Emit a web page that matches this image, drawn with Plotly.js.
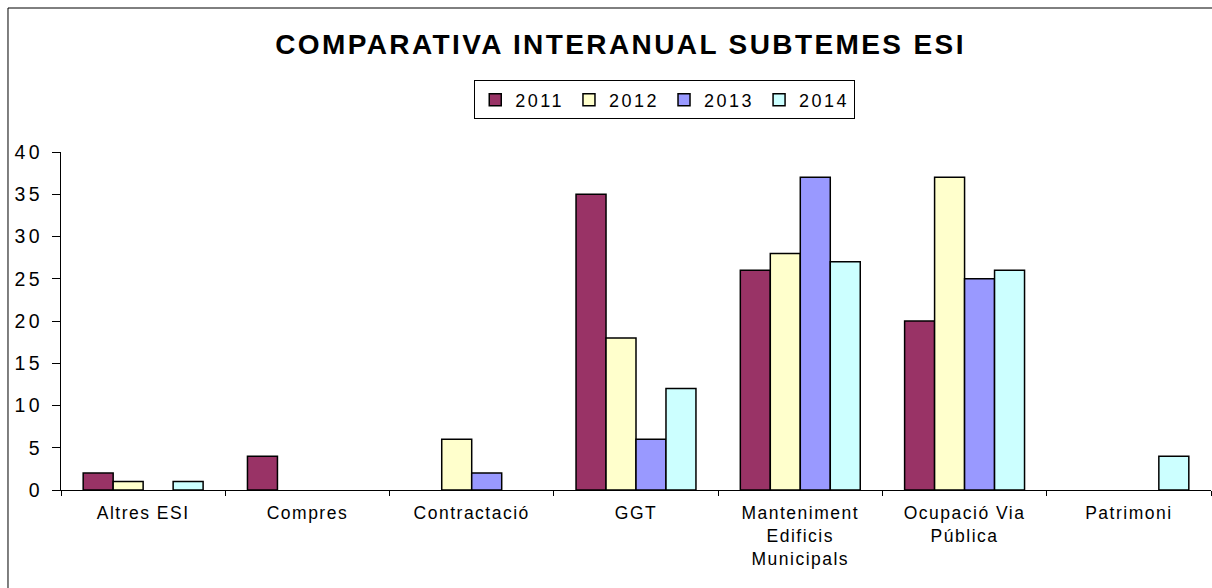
<!DOCTYPE html>
<html>
<head>
<meta charset="utf-8">
<script src="https://cdn.plot.ly/plotly-3.0.1.min.js"></script>
<style>
html,body{margin:0;padding:0;background:#fff}
#chart{width:1212px;height:588px}
svg text{letter-spacing:2.5px}
#chart .gtitle{letter-spacing:2.4px}
#chart .xtick text{letter-spacing:1.5px}
#chart .ytick text{letter-spacing:3.5px}
</style>
</head>
<body>
<div id="chart"></div>
<script>
const categories = ["Altres ESI", "Compres", "Contractació", "GGT", "Manteniment<br>Edificis<br>Municipals", "Ocupació Via<br>Pública", "Patrimoni"];
const years = ["2011", "2012", "2013", "2014"];
const v2011 = [2, 4, 0, 35, 26, 20, 0];
const v2012 = [1, 0, 6, 18, 28, 37, 0];
const v2013 = [0, 0, 2, 6, 37, 25, 0];
const v2014 = [1, 0, 0, 12, 27, 26, 4];
const colors = ["#993366", "#FFFFCC", "#9999FF", "#CCFFFF"];
const series = [v2011, v2012, v2013, v2014];

const traces = series.map((vals, i) => ({
  type: "bar",
  name: years[i],
  x: categories,
  y: vals.map(v => (v === 0 ? null : v)),
  marker: {color: colors[i], line: {color: "#000", width: 1.5}}
}));

const layout = {
  width: 1212, height: 588,
  paper_bgcolor: "#fff", plot_bgcolor: "#fff",
  margin: {l: 61, r: 1, t: 152, b: 98},
  font: {family: "Liberation Sans, Arial, sans-serif", color: "#000"},
  title: {text: "<b>COMPARATIVA INTERANUAL SUBTEMES ESI</b>", font: {size: 28, color: "#000"}, x: 0.512, xanchor: "center", y: 0.925, yanchor: "middle"},
  barmode: "group", bargap: 0.27, bargroupgap: 0,
  showlegend: true,
  legend: {orientation: "h", x: 0.525, xanchor: "center", y: 1.154, yanchor: "middle", bordercolor: "#000", borderwidth: 1, font: {size: 18}, itemwidth: 30, tracegroupgap: 0, itemclick: false},
  xaxis: {type: "category", showline: true, linecolor: "#000", linewidth: 1, ticks: "outside", ticklen: 5, tickcolor: "#000", tickson: "boundaries", tickfont: {size: 17.5}, ticklabelstandoff: 7, showgrid: false, zeroline: false, fixedrange: true},
  yaxis: {range: [0, 40], dtick: 5, showline: true, linecolor: "#000", linewidth: 1, ticks: "outside", ticklen: 8, tickcolor: "#000", tickfont: {size: 19.5}, ticklabelstandoff: 5, showgrid: false, zeroline: false, fixedrange: true},
  shapes: [
    {type: "line", xref: "paper", yref: "paper", x0: -0.0461, x1: 1.01, y0: 1.426, y1: 1.426, line: {color: "#000", width: 1}},
    {type: "line", xref: "paper", yref: "paper", x0: -0.0461, x1: -0.0461, y0: 1.426, y1: -0.3, line: {color: "#000", width: 1}}
  ]
};
Plotly.newPlot("chart", traces, layout, {displayModeBar: false, staticPlot: true});
</script>
</body>
</html>
